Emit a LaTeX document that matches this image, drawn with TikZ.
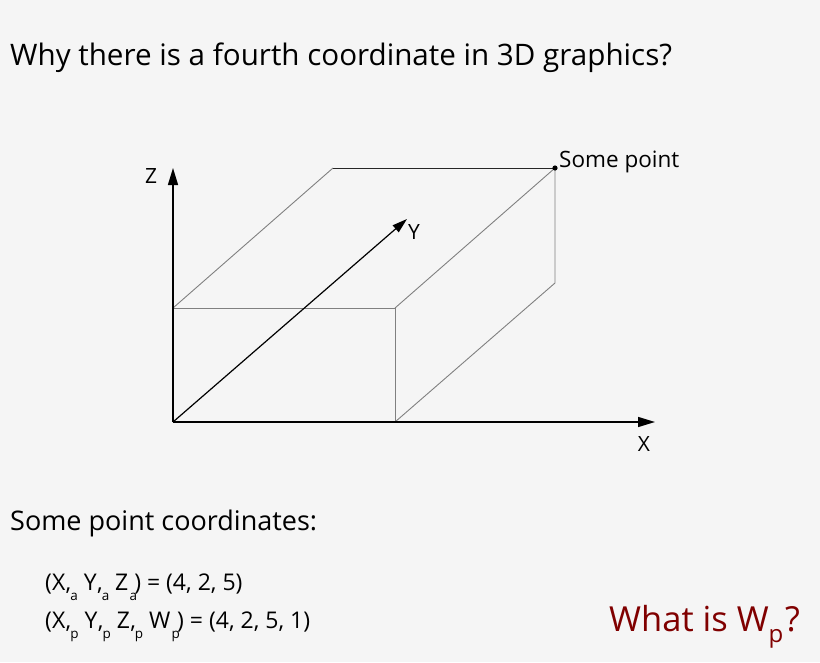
\documentclass[tikz,border=0pt]{standalone}
\usepackage{fontspec}
\setmainfont{Open Sans}
\usetikzlibrary{arrows.meta}
\definecolor{bg}{HTML}{F5F5F5}
\definecolor{edgegray}{HTML}{808080}
\definecolor{wpred}{HTML}{800000}
\newcommand{\subcomma}[1]{\kern0.02em\rlap{,}\kern0.2em\raisebox{-0.85ex}{\fontsize{13.5}{13.5}\selectfont #1}}
\newcommand{\subend}[1]{\kern0.05em\raisebox{-0.85ex}{\fontsize{13.5}{13.5}\selectfont #1}\kern-0.12em}
\tikzset{
  axis/.style={line width=1.4pt, black, -{Triangle[length=17pt,width=10pt]}},
  edge/.style={line width=0.9pt, edgegray},
  lbl/.style={inner sep=0pt, font=\fontsize{21}{24}\selectfont},
  txt/.style={inner sep=0pt, anchor=base west},
}
\begin{document}
\begin{tikzpicture}[x=1pt,y=-1pt]
\path[fill=bg] (0,0) rectangle (820,662);
\useasboundingbox (0,0) rectangle (820,662);
% corners
\coordinate (O) at (173,422);
\coordinate (A) at (173,308);
\coordinate (B) at (395,308);
\coordinate (C) at (395,422);
\coordinate (D) at (333,168);
\coordinate (E) at (555,168);
\coordinate (F) at (555,283);
\coordinate (Xt) at (655,422);
\coordinate (Zt) at (173,168);
\coordinate (Yt) at (407,219);
% box edges
\draw[edge] (A) -- (B) -- (C);
\draw[edge] (A) -- (D);
\draw[edge] (B) -- (E);
\draw[edge] (C) -- (F) -- (E);
\draw[line width=1pt, black!85] (D) -- (E);
% axes
\draw[axis] (O) -- (Xt);
\draw[axis] (O) -- (Zt);
\draw[line width=1.2pt, black, -{Triangle[length=15pt,width=9pt]}] (O) -- (Yt);
\fill[black] (E) circle (2.6pt);
% labels
\node[lbl] (xl) at (644,444) {X};
\node[lbl] (zl) at (151,176) {Z};
\node[lbl, anchor=west] (yl) at (408,232) {Y};
\node[lbl, font=\fontsize{22.5}{26}\selectfont, anchor=base west] (sp) at (559,167) {Some point};
% texts
\node[txt, font=\fontsize{29.6}{34}\selectfont] (title) at (10,65) {Why there is a fourth coordinate in 3D graphics?};
\node[txt, font=\fontsize{27}{30}\selectfont] (spc) at (10,530) {Some point coordinates:};
\node[txt, font=\fontsize{23}{26}\selectfont] (f1) at (45,590) {(X\subcomma{a} Y\subcomma{a} Z\subend{a}) = (4, 2, 5)};
\node[txt, font=\fontsize{23}{26}\selectfont] (f2) at (45,628) {(X\subcomma{p} Y\subcomma{p} Z\subcomma{p} W\subend{p}) = (4, 2, 5, 1)};
\node[txt, font=\fontsize{34.5}{38}\selectfont, text=wpred] (wp) at (609,631) {What is W\raisebox{-0.6ex}{\fontsize{24}{24}\selectfont p}\kern0.05em?};
\end{tikzpicture}
\end{document}
